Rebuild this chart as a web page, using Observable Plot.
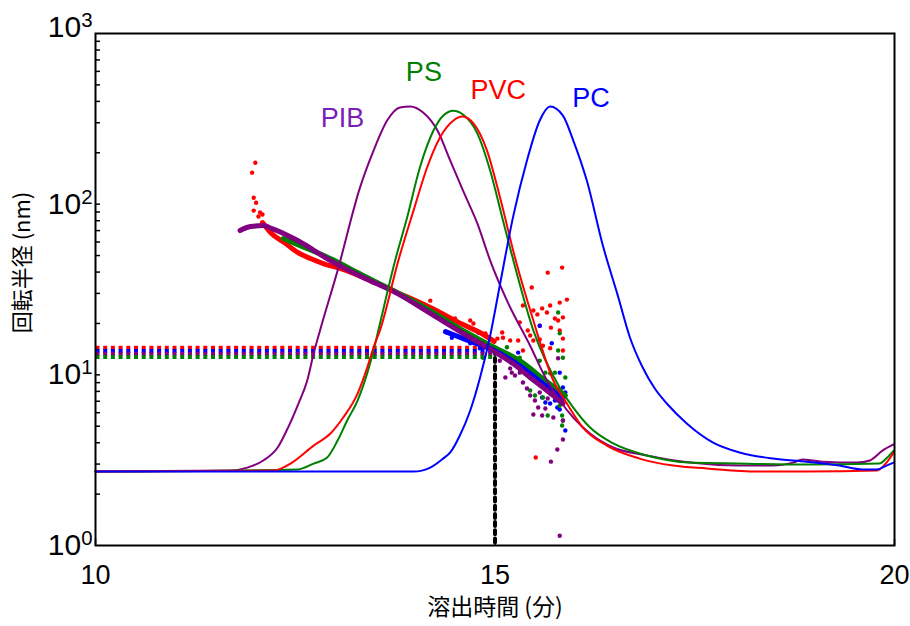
<!DOCTYPE html>
<html><head><meta charset="utf-8">
<script src="https://cdn.jsdelivr.net/npm/d3@7"></script>
<script src="https://cdn.jsdelivr.net/npm/@observablehq/plot@0.6"></script>
<style>body{margin:0;background:#fff}</style>
</head><body><div id="chart"></div>
<script>
// ---- Concentration (chromatogram) curves: elution time (min) vs signal ----
const pibX = [10, 11.69, 11.9, 12.1, 12.28, 12.41, 12.54, 12.65, 12.73, 12.81, 13.03, 13.31, 13.48, 13.65, 13.81, 13.94, 14.1, 14.28, 14.44, 14.6, 14.78, 14.94, 15.15, 15.44, 15.65, 15.81, 15.98, 16.19, 16.48, 16.9, 17.44, 18.06, 18.48, 18.73, 18.85, 18.98, 19.1, 19.53, 19.69, 19.85, 19.99];
const pibY = [2.71, 2.75, 2.86, 3.15, 3.75, 4.91, 6.79, 9.26, 13.3, 18.2, 40.8, 125, 206, 309, 368, 373, 344, 270, 180, 120, 76.9, 46.7, 27.2, 14.8, 9.26, 7.07, 5.62, 4.53, 3.75, 3.37, 3.06, 2.94, 2.94, 3.06, 3.19, 3.15, 3.1, 3.06, 3.15, 3.6, 3.91];
const psX = [10, 12.53, 12.73, 12.9, 13.03, 13.15, 13.28, 13.4, 13.48, 13.54, 13.75, 13.9, 14.06, 14.23, 14.35, 14.48, 14.6, 14.78, 14.94, 15.1, 15.23, 15.48, 15.81, 15.98, 16.19, 16.48, 16.9, 17.44, 18.06, 18.9, 19.81, 19.91, 19.99];
const psY = [2.71, 2.79, 3.02, 3.28, 4.12, 5.4, 7.07, 10.2, 13.9, 18.2, 46.7, 83.5, 164, 270, 330, 353, 335, 259, 157, 80.2, 46.7, 18.2, 8.43, 6.43, 4.91, 3.96, 3.37, 3.06, 3.02, 2.98, 3.02, 3.28, 3.6];
const pvcX = [10, 12.23, 12.44, 12.73, 12.94, 13.1, 13.28, 13.4, 13.48, 13.56, 13.79, 13.98, 14.15, 14.31, 14.48, 14.59, 14.73, 14.9, 15.06, 15.25, 15.48, 15.73, 15.9, 16.1, 16.4, 16.81, 17.23, 17.65, 18.28, 18.9, 19.78, 19.9, 19.99];
const pvcY = [2.71, 2.75, 3.02, 3.85, 4.53, 5.62, 7.77, 11.0, 14.5, 18.2, 46.7, 91.7, 164, 245, 309, 326, 297, 206, 111, 48.7, 20.8, 9.26, 6.79, 4.91, 3.85, 3.23, 2.94, 2.83, 2.71, 2.71, 2.75, 3.06, 3.51];
const pcX = [10, 13.98, 14.19, 14.35, 14.44, 14.56, 14.69, 14.81, 14.94, 15.06, 15.23, 15.4, 15.56, 15.69, 15.85, 15.98, 16.15, 16.35, 16.53, 16.69, 16.85, 17.0, 17.15, 17.4, 17.73, 18.06, 18.48, 18.9, 19.31, 19.6, 19.78, 19.9, 19.99];
const pcY = [2.71, 2.71, 2.86, 3.23, 3.51, 4.41, 6.18, 9.52, 17.0, 33.4, 85.7, 180, 309, 373, 330, 236, 137, 57.2, 29.9, 16.5, 11.0, 8.31, 6.79, 5.19, 4.01, 3.51, 3.23, 3.1, 2.94, 2.79, 2.79, 2.94, 3.06];

// ---- Radius of gyration (nm): dense runs ----
const pibRgX = [11.81, 11.94, 12.1, 12.21, 12.53, 12.94, 13.35, 13.78, 14.19, 14.6, 14.99, 15.23, 15.44, 15.65, 15.85];
const pibRgY = [70.0, 73.9, 74.9, 71.9, 61.2, 46.7, 37.2, 29.9, 22.9, 17.5, 13.7, 11.6, 9.65, 8.09, 6.79];
const psRgX = [12.35, 12.56, 12.94, 13.35, 13.78, 14.19, 14.6, 14.99, 15.31, 15.63, 15.88];
const psRgY = [62.9, 57.2, 48.0, 38.2, 30.3, 23.8, 18.2, 14.5, 12.1, 9.26, 7.56];
const pvcRgX = [12.09, 12.19, 12.38, 12.53, 12.69, 12.85, 13.06, 13.35, 13.78, 14.19, 14.6, 14.81, 14.99];
const pvcRgY = [78.0, 68.2, 58.8, 52.1, 48.0, 44.9, 42.0, 37.2, 30.3, 24.8, 19.7, 17.7, 15.7];
const pcRgX = [14.38, 14.69, 14.99, 15.31, 15.63, 15.85];
const pcRgY = [17.9, 15.7, 13.9, 11.3, 8.65, 7.26];

// ---- Radius of gyration: scattered points ----
const pvcDotX = [12.0, 11.96, 11.98, 12.01, 11.98, 12.06, 12.09, 12.04, 12.15, 14.19, 14.5, 14.69, 14.73, 14.88, 15.03, 15.66, 15.84, 15.46, 15.9, 15.81, 15.69, 15.35, 15.48, 15.53, 15.65, 15.75, 15.79, 15.85, 15.31, 15.7, 15.56, 15.85, 15.81, 15.41, 15.44, 15.48, 15.6, 15.29, 15.69, 15.19, 15.09, 15.1, 15.35, 15.23, 15.51, 15.59, 15.56, 15.85];
const pvcDotY = [175, 153, 109, 102, 91.7, 89.3, 86.9, 84.6, 73.9, 27.2, 21.4, 20.8, 20.0, 17.5, 16.3, 39.7, 42.5, 32.5, 27.6, 26.5, 25.5, 25.5, 23.8, 22.6, 23.2, 21.4, 20.8, 21.7, 20.3, 18.9, 19.4, 16.3, 18.2, 18.2, 17.0, 15.9, 14.8, 15.9, 14.3, 15.9, 17.7, 16.5, 13.9, 12.1, 3.28, 24.5, 16.1, 13.9];
const pcDotX = [14.4, 14.46, 14.6, 14.69, 14.79, 14.85, 14.81, 15.56, 15.71, 15.29, 15.21, 15.44, 15.54, 15.63, 15.59, 15.63, 15.69, 15.75, 15.78, 15.81, 15.85, 15.88, 15.88, 15.81, 15.13, 15.38, 15.5, 15.69, 15.79];
const pcDotY = [17.7, 16.5, 16.5, 15.3, 17.7, 15.3, 14.3, 19.4, 15.3, 13.5, 11.8, 9.65, 9.02, 8.43, 7.36, 6.88, 6.79, 7.07, 6.43, 6.26, 8.43, 7.88, 4.72, 10.3, 12.5, 11.0, 10.3, 7.77, 7.07];
const psDotX = [15.15, 14.85, 15.31, 15.56, 15.79, 15.81, 15.85, 15.79, 15.75, 15.69, 15.88, 15.65, 15.6, 15.66, 15.84, 15.84, 15.85, 15.44, 15.5, 15.06, 15.25, 15.44, 15.63, 15.75, 15.81];
const psDotY = [14.5, 12.6, 12.6, 12.1, 23.2, 17.5, 12.6, 13.9, 10.3, 10.2, 9.65, 8.65, 7.36, 5.78, 5.78, 5.05, 5.4, 8.09, 7.56, 13.5, 12.1, 10.9, 10.3, 7.56, 6.61];
const pibDotX = [15.13, 15.31, 15.35, 15.5, 15.48, 15.59, 15.73, 15.85, 15.85, 15.78, 15.7, 15.81, 15.79, 15.74, 15.54, 15.4, 15.25, 15.06, 15.19, 15.38, 15.56, 15.66, 15.63, 15.44, 15.13, 15.21];
const pibDotY = [9.65, 10.3, 9.02, 7.07, 5.85, 5.78, 5.62, 5.4, 4.18, 3.65, 3.1, 1.14, 12.5, 8.43, 6.43, 8.31, 9.91, 12.1, 10.9, 10.3, 7.88, 7.26, 6.35, 7.56, 13.0, 10.3];

// ---- Reference levels (Rg at 15 min) ----
const refNames = ["PVC", "PC", "PIB", "PS"];
const refLevels = [14.4, 13.8, 13.3, 12.7];
const refTime = [10, 15];
const markerTime = 15;
const markerRange = [14, 1];

// ---- Labels ----
const labelNames = ["PIB", "PS", "PVC", "PC"];
const labelX = [13.09, 14.11, 15.04, 16.2];
const labelY = [317, 590, 463, 416];

// ---- Axis ticks ----
const yMajor = [1, 10, 100, 1000];
const yMinor = [2,3,4,5,6,7,8,9,10,20,30,40,50,60,70,80,90,100,200,300,400,500,600,700,800,900];
const xMajor = [10, 15, 20];

const colors = {PIB: "#800080", PS: "#008000", PVC: "#ff0000", PC: "#0000ff"};
const textColors = {PIB: "#7a1fb8", PS: "#008000", PVC: "#ff0000", PC: "#0000ff"};

const rows = (xs, ys, name) => xs.map((x, i) => ({x, y: ys[i], name}));
const curves = [rows(pibX, pibY, "PIB"), rows(psX, psY, "PS"), rows(pvcX, pvcY, "PVC"), rows(pcX, pcY, "PC")];
const rgRuns = [rows(pvcRgX, pvcRgY, "PVC"), rows(psRgX, psRgY, "PS"), rows(pcRgX, pcRgY, "PC"), rows(pibRgX, pibRgY, "PIB")];
const rgDots = [rows(pvcDotX, pvcDotY, "PVC"), rows(pcDotX, pcDotY, "PC"), rows(psDotX, psDotY, "PS"), rows(pibDotX, pibDotY, "PIB")];
const refRows = refNames.flatMap((n, i) => refTime.map(t => ({x: t, y: refLevels[i], name: n})));
const markerRows = markerRange.map(v => ({x: markerTime, y: v}));
const labels = labelNames.map((n, i) => ({x: labelX[i], y: labelY[i], name: n}));

const marks = [];
for (const n of refNames) {
  marks.push(Plot.line(refRows.filter(d => d.name === n), {x: "x", y: "y", stroke: colors[n], strokeWidth: 4, strokeDasharray: "4,3.7", strokeLinecap: "butt"}));
}
marks.push(Plot.line(markerRows, {x: "x", y: "y", stroke: "black", strokeWidth: 4, strokeDasharray: "4,4.2"}));
for (const r of rgDots) marks.push(Plot.dot(r, {x: "x", y: "y", r: 2.2, fill: colors[r[0].name], stroke: "none"}));
for (const r of rgRuns) marks.push(Plot.line(r, {x: "x", y: "y", stroke: colors[r[0].name], strokeWidth: 5, strokeLinecap: "round", curve: "monotone-x"}));
for (const c of curves) marks.push(Plot.line(c, {x: "x", y: "y", stroke: colors[c[0].name], strokeWidth: 2, curve: "monotone-x"}));
marks.push(Plot.text(labels, {x: "x", y: "y", text: "name", fill: d => textColors[d.name], fontSize: 27, fontFamily: "Liberation Sans, Arial, sans-serif"}));
marks.push(Plot.frame({stroke: "black", strokeWidth: 2}));
marks.push(Plot.axisY({ticks: yMinor, tickSize: -5, tickFormat: () => "", label: null, strokeWidth: 1.5}));
marks.push(Plot.axisY({ticks: yMajor, tickSize: 0, tickPadding: 3, tickFormat: d => "10^" + Math.round(Math.log10(d)), fontSize: 30, fontFamily: "Liberation Sans, Arial, sans-serif", label: null}));
marks.push(Plot.axisX({ticks: xMajor, tickSize: -6, tickFormat: () => "", label: null, strokeWidth: 1.5}));
marks.push(Plot.axisX({ticks: xMajor, tickSize: 0, tickPadding: 19, fontSize: 27, fontFamily: "Liberation Sans Narrow, Liberation Sans, sans-serif", label: null}));
marks.push(Plot.text(["回転半径 (nm)"], {text: d => d, frameAnchor: "left", textAnchor: "middle", lineAnchor: "middle", dx: -73, dy: -27, rotate: -90, fontSize: 22, fontFamily: "Noto Sans CJK JP", fill: "black"}));
marks.push(Plot.text(["溶出時間 (分)"], {text: d => d, frameAnchor: "bottom", lineAnchor: "middle", dy: 62, fontSize: 23, fontFamily: "Noto Sans CJK JP", fill: "black"}));

const chart = Plot.plot({
  width: 910, height: 626,
  marginLeft: 95, marginRight: 16, marginTop: 33, marginBottom: 81,
  x: {domain: [10, 20]},
  y: {type: "log", domain: [1, 1000]},
  style: {background: "white", color: "black", overflow: "visible"},
  marks
});
document.getElementById("chart").appendChild(chart);

// superscript exponents on the y tick labels
d3.select(chart).selectAll("text").each(function() {
  const t = this.textContent;
  if (/^10\^\d$/.test(t)) {
    const [b, e] = t.split("^");
    this.textContent = "";
    const sel = d3.select(this);
    if (e === "3") sel.attr("transform", (sel.attr("transform") || "") + " translate(0,-6)");
    sel.append("tspan").text(b);
    sel.append("tspan").attr("dy", "-0.5em").attr("font-size", "0.68em").text(e);
  }
});
</script>
</body></html>
